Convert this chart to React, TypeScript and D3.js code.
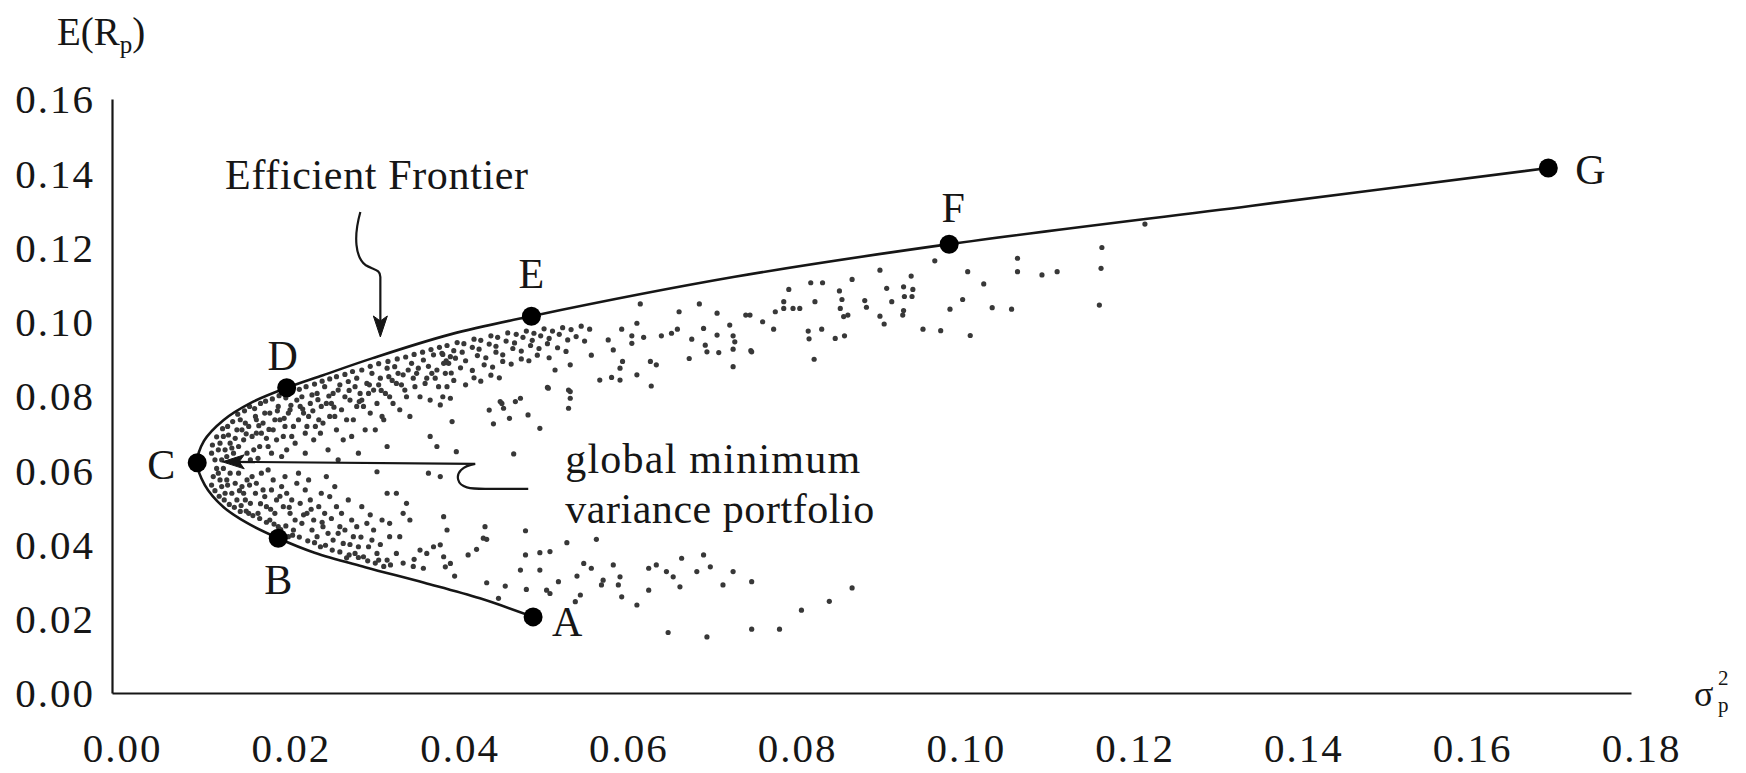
import * as d3 from "d3"
import React, { useEffect, useRef } from "react"

const W = 1746
const H = 773
const FONT = "'Liberation Serif', 'Times New Roman', serif"
const INK = "#161616"

const xTicks = [0, 0.02, 0.04, 0.06, 0.08, 0.1, 0.12, 0.14, 0.16, 0.18]
const yTicks = [0, 0.02, 0.04, 0.06, 0.08, 0.1, 0.12, 0.14, 0.16]

// named portfolios sitting on the frontier
const portfolioNames = ["A", "B", "C", "D", "E", "F", "G"]
const portfolioVar = [0.0499, 0.0197, 0.0101, 0.0207, 0.0497, 0.0992, 0.1702]
const portfolioRet = [0.0205, 0.0417, 0.0620, 0.0822, 0.1015, 0.1209, 0.1414]

// minimum variance frontier, traced from A round the nose at C up to G
const frontierVar = [0.0499, 0.0436, 0.0370, 0.0300, 0.0240, 0.0197, 0.0160, 0.0132, 0.0110, 0.0101,
  0.0109, 0.0132, 0.0164, 0.0207, 0.0250, 0.0309, 0.0401, 0.0497, 0.0738, 0.0992, 0.1349, 0.1702]
const frontierRet = [0.0205, 0.0255, 0.0297, 0.0339, 0.0378, 0.0417, 0.0458, 0.0501, 0.0560, 0.0620,
  0.0679, 0.0735, 0.0781, 0.0822, 0.0856, 0.0902, 0.0966, 0.1015, 0.1121, 0.1209, 0.1312, 0.1414]

// feasible portfolios: [variance, expected return]
const cloudNose = [[0.0122, 0.0628], [0.0124, 0.0605], [0.0120, 0.0583], [0.0118, 0.0646], [0.0119, 0.0668], [0.0118, 0.0560], [0.0122, 0.0545]]

const cloudUpper = [
  [0.0126, 0.0655], [0.0132, 0.0691], [0.0136, 0.0637], [0.0140, 0.0673], [0.0130, 0.0628],
  [0.0148, 0.0709], [0.0152, 0.0736], [0.0156, 0.0682], [0.0160, 0.0646], [0.0162, 0.0718], [0.0150, 0.0664], [0.0164, 0.0628],
  [0.0170, 0.0745], [0.0171, 0.0700], [0.0175, 0.0664], [0.0179, 0.0727], [0.0183, 0.0686], [0.0187, 0.0754], [0.0189, 0.0646], [0.0191, 0.0709], [0.0173, 0.0632],
  [0.0197, 0.0772], [0.0199, 0.0736], [0.0203, 0.0691], [0.0207, 0.0655], [0.0211, 0.0763], [0.0215, 0.0718], [0.0219, 0.0789], [0.0217, 0.0673], [0.0201, 0.0637],
  [0.0225, 0.0798], [0.0227, 0.0754], [0.0231, 0.0718], [0.0235, 0.0780], [0.0239, 0.0682], [0.0243, 0.0807], [0.0245, 0.0736], [0.0229, 0.0646], [0.0247, 0.0700],
  [0.0252, 0.0825], [0.0254, 0.0780], [0.0258, 0.0745], [0.0262, 0.0807], [0.0266, 0.0709], [0.0270, 0.0830], [0.0272, 0.0763], [0.0256, 0.0655], [0.0268, 0.0628], [0.0274, 0.0682],
  [0.0280, 0.0839], [0.0282, 0.0789], [0.0286, 0.0736], [0.0290, 0.0848], [0.0294, 0.0807], [0.0298, 0.0772], [0.0302, 0.0834], [0.0284, 0.0691], [0.0292, 0.0646], [0.0300, 0.0709],
  [0.0308, 0.0861], [0.0310, 0.0816], [0.0314, 0.0780], [0.0318, 0.0848], [0.0322, 0.0736], [0.0326, 0.0875], [0.0329, 0.0798], [0.0312, 0.0709], [0.0326, 0.0664], [0.0320, 0.0745],
  [0.0335, 0.0879], [0.0337, 0.0834], [0.0345, 0.0857], [0.0349, 0.0798], [0.0355, 0.0888], [0.0359, 0.0825], [0.0341, 0.0763], [0.0353, 0.0745],
  [0.0369, 0.0897], [0.0373, 0.0848], [0.0381, 0.0911], [0.0385, 0.0870], [0.0393, 0.0888], [0.0397, 0.0825], [0.0377, 0.0789], [0.0389, 0.0776], [0.0401, 0.0906],
  [0.0128, 0.0673], [0.0134, 0.0655], [0.0138, 0.0695], [0.0144, 0.0646], [0.0146, 0.0686], [0.0154, 0.0709], [0.0158, 0.0727], [0.0166, 0.0691], [0.0168, 0.0655],
  [0.0171, 0.0736], [0.0177, 0.0700], [0.0181, 0.0754], [0.0185, 0.0664], [0.0193, 0.0736], [0.0195, 0.0682], [0.0205, 0.0718], [0.0209, 0.0754], [0.0213, 0.0691],
  [0.0221, 0.0736], [0.0223, 0.0772], [0.0229, 0.0700], [0.0233, 0.0745], [0.0237, 0.0803], [0.0241, 0.0718], [0.0248, 0.0772], [0.0250, 0.0727], [0.0260, 0.0780],
  [0.0264, 0.0745], [0.0268, 0.0816], [0.0276, 0.0798], [0.0278, 0.0736], [0.0288, 0.0825], [0.0290, 0.0772], [0.0296, 0.0789], [0.0304, 0.0807], [0.0306, 0.0754],
  [0.0316, 0.0830], [0.0324, 0.0807], [0.0328, 0.0852], [0.0333, 0.0780], [0.0339, 0.0861], [0.0347, 0.0816], [0.0351, 0.0870], [0.0361, 0.0861], [0.0365, 0.0798],
  [0.0371, 0.0834], [0.0379, 0.0861], [0.0387, 0.0825], [0.0395, 0.0861], [0.0399, 0.0888], [0.0391, 0.0915],
  // hugging the frontier
  [0.0124, 0.0690], [0.0131, 0.0712], [0.0137, 0.0718], [0.0143, 0.0731], [0.0149, 0.0751], [0.0157, 0.0760], [0.0163, 0.0772], [0.0169, 0.0766],
  [0.0176, 0.0780], [0.0182, 0.0786], [0.0190, 0.0792], [0.0198, 0.0801], [0.0206, 0.0795], [0.0214, 0.0812], [0.0222, 0.0818], [0.0230, 0.0825],
  [0.0240, 0.0832], [0.0249, 0.0840], [0.0258, 0.0846], [0.0266, 0.0852], [0.0276, 0.0858], [0.0285, 0.0866], [0.0296, 0.0870], [0.0306, 0.0880],
  [0.0316, 0.0887], [0.0327, 0.0893], [0.0338, 0.0900], [0.0348, 0.0905], [0.0358, 0.0912], [0.0368, 0.0918], [0.0378, 0.0925], [0.0388, 0.0931],
  [0.0142, 0.0660], [0.0159, 0.0698], [0.0174, 0.0720], [0.0186, 0.0710], [0.0196, 0.0760], [0.0204, 0.0740], [0.0212, 0.0775], [0.0226, 0.0765],
  [0.0238, 0.0760], [0.0244, 0.0790], [0.0257, 0.0800], [0.0263, 0.0770], [0.0281, 0.0815], [0.0293, 0.0785], [0.0305, 0.0830], [0.0319, 0.0815],
  [0.0332, 0.0842], [0.0343, 0.0830], [0.0357, 0.0848], [0.0363, 0.0875], [0.0375, 0.0880], [0.0383, 0.0848], [0.0396, 0.0895],
]

const cloudBand = [
  [0.0397, 0.0936], [0.0409, 0.0944], [0.0417, 0.0941], [0.0429, 0.0953], [0.0437, 0.0950], [0.0449, 0.0962], [0.0457, 0.0958], [0.0469, 0.0970], [0.0479, 0.0966],
  [0.0491, 0.0975], [0.0500, 0.0969], [0.0512, 0.0981], [0.0522, 0.0975], [0.0534, 0.0984], [0.0544, 0.0979], [0.0556, 0.0988], [0.0566, 0.0980],
  [0.0392, 0.0912], [0.0405, 0.0922], [0.0415, 0.0918], [0.0427, 0.0931], [0.0435, 0.0926], [0.0447, 0.0940], [0.0455, 0.0934], [0.0467, 0.0948], [0.0477, 0.0943],
  [0.0487, 0.0958], [0.0498, 0.0950], [0.0508, 0.0962], [0.0518, 0.0955], [0.0530, 0.0966], [0.0540, 0.0951], [0.0550, 0.0960], [0.0560, 0.0948],
  [0.0396, 0.0890], [0.0407, 0.0902], [0.0419, 0.0895], [0.0433, 0.0909], [0.0443, 0.0903], [0.0455, 0.0918], [0.0463, 0.0911], [0.0475, 0.0928], [0.0485, 0.0921],
  [0.0496, 0.0936], [0.0506, 0.0928], [0.0516, 0.0941], [0.0528, 0.0930], [0.0538, 0.0920],
  [0.0402, 0.0862], [0.0413, 0.0876], [0.0427, 0.0869], [0.0441, 0.0884], [0.0451, 0.0878], [0.0463, 0.0893], [0.0473, 0.0886], [0.0485, 0.0900], [0.0494, 0.0895],
  [0.0504, 0.0910], [0.0518, 0.0903],
  [0.0405, 0.0842], [0.0419, 0.0830], [0.0429, 0.0849], [0.0437, 0.0840], [0.0449, 0.0856], [0.0459, 0.0849],
]

const cloudUpperRight = [
  [0.0626, 0.1048], [0.0672, 0.1027], [0.0696, 0.1048], [0.0717, 0.1023], [0.0751, 0.1018], [0.0604, 0.0980], [0.0622, 0.0996], [0.0616, 0.0962], [0.0630, 0.0958],
  [0.0616, 0.0942], [0.0651, 0.0962], [0.0663, 0.0969], [0.0670, 0.0980], [0.0687, 0.0953], [0.0701, 0.0982], [0.0717, 0.0964], [0.0732, 0.0991], [0.0736, 0.0962],
  [0.0738, 0.0946], [0.0703, 0.0937], [0.0705, 0.0919], [0.0719, 0.0917], [0.0736, 0.0926], [0.0757, 0.0922], [0.0684, 0.0901], [0.0736, 0.0879], [0.0588, 0.0951],
  [0.0594, 0.0924], [0.0605, 0.0893], [0.0602, 0.0875], [0.0622, 0.0857], [0.0638, 0.0893], [0.0645, 0.0884], [0.0639, 0.0827], [0.0578, 0.0843], [0.0592, 0.0850],
  [0.0602, 0.0843], [0.0568, 0.0910], [0.0543, 0.0884], [0.0541, 0.0816], [0.0543, 0.0794], [0.0541, 0.0767], [0.0516, 0.0823], [0.0525, 0.0870],
  [0.0802, 0.1087], [0.0828, 0.1105], [0.0842, 0.1105], [0.0877, 0.1114], [0.0910, 0.1139], [0.0947, 0.1123], [0.0975, 0.1164], [0.1014, 0.1135], [0.1073, 0.1171],
  [0.1073, 0.1135], [0.1102, 0.1126], [0.1120, 0.1135], [0.1173, 0.1200], [0.1172, 0.1144], [0.1170, 0.1045], [0.0756, 0.1018], [0.0771, 0.1000], [0.0784, 0.0980],
  [0.0786, 0.1027], [0.0796, 0.1054], [0.0796, 0.1036], [0.0807, 0.1036], [0.0815, 0.1036], [0.0833, 0.1054], [0.0862, 0.1083], [0.0865, 0.1060], [0.0863, 0.1036],
  [0.0867, 0.1014], [0.0872, 0.1018], [0.0892, 0.1057], [0.0894, 0.1039], [0.0918, 0.1090], [0.0924, 0.1054], [0.0910, 0.1015], [0.0915, 0.0994], [0.0938, 0.1094],
  [0.0949, 0.1087], [0.0939, 0.1068], [0.0948, 0.1068], [0.0938, 0.1030], [0.0937, 0.1018], [0.0961, 0.0980], [0.0982, 0.0976], [0.0993, 0.1034], [0.1008, 0.1060],
  [0.1033, 0.1102], [0.1043, 0.1038], [0.1066, 0.1034], [0.1017, 0.0963], [0.0825, 0.0975], [0.0826, 0.0954], [0.0841, 0.0980], [0.0857, 0.0955], [0.0868, 0.0962],
  [0.0832, 0.0899], [0.0758, 0.0919], [0.1224, 0.1263],
]

const cloudMiddle = [
  [0.0377, 0.0691], [0.0385, 0.0664], [0.0375, 0.0592], [0.0389, 0.0583], [0.0314, 0.0596], [0.0403, 0.0731], [0.0408, 0.0650], [0.0476, 0.0644],
  [0.0507, 0.0713], [0.0493, 0.0749], [0.0484, 0.0794], [0.0478, 0.0785], [0.0460, 0.0785], [0.0464, 0.0767], [0.0471, 0.0740], [0.0452, 0.0725],
  [0.0447, 0.0762], [0.0392, 0.0798], [0.0401, 0.0794], [0.0462, 0.0780], [0.0517, 0.0821], [0.0543, 0.0812],
]

const cloudLower = [
  [0.0126, 0.0592], [0.0130, 0.0556], [0.0136, 0.0574], [0.0142, 0.0538], [0.0132, 0.0605],
  [0.0150, 0.0592], [0.0154, 0.0556], [0.0158, 0.0520], [0.0162, 0.0484], [0.0166, 0.0583], [0.0170, 0.0538], [0.0152, 0.0489],
  [0.0177, 0.0592], [0.0179, 0.0547], [0.0183, 0.0502], [0.0187, 0.0466], [0.0191, 0.0574], [0.0195, 0.0520], [0.0197, 0.0448], [0.0185, 0.0601],
  [0.0205, 0.0583], [0.0207, 0.0538], [0.0211, 0.0484], [0.0215, 0.0439], [0.0219, 0.0565], [0.0223, 0.0511], [0.0225, 0.0457], [0.0209, 0.0421],
  [0.0233, 0.0574], [0.0235, 0.0520], [0.0239, 0.0466], [0.0243, 0.0421], [0.0248, 0.0538], [0.0252, 0.0484], [0.0256, 0.0430], [0.0247, 0.0394], [0.0254, 0.0583],
  [0.0264, 0.0556], [0.0266, 0.0502], [0.0270, 0.0448], [0.0274, 0.0403], [0.0280, 0.0520], [0.0284, 0.0466], [0.0288, 0.0376], [0.0278, 0.0364], [0.0286, 0.0421],
  [0.0296, 0.0502], [0.0302, 0.0457], [0.0308, 0.0412], [0.0314, 0.0376], [0.0320, 0.0466], [0.0326, 0.0358], [0.0329, 0.0421], [0.0298, 0.0367], [0.0322, 0.0341],
  [0.0337, 0.0538], [0.0345, 0.0484], [0.0349, 0.0511], [0.0353, 0.0466], [0.0365, 0.0385], [0.0373, 0.0376], [0.0381, 0.0394], [0.0393, 0.0367], [0.0401, 0.0349],
  [0.0369, 0.0336], [0.0357, 0.0341], [0.0337, 0.0376], [0.0341, 0.0421], [0.0329, 0.0457],
  [0.0128, 0.0574], [0.0134, 0.0538], [0.0140, 0.0592], [0.0146, 0.0565], [0.0148, 0.0520], [0.0156, 0.0538], [0.0160, 0.0574], [0.0164, 0.0511],
  [0.0171, 0.0565], [0.0173, 0.0484], [0.0181, 0.0529], [0.0189, 0.0547], [0.0193, 0.0484], [0.0201, 0.0556], [0.0203, 0.0502], [0.0213, 0.0520],
  [0.0217, 0.0466], [0.0221, 0.0592], [0.0229, 0.0547], [0.0231, 0.0484], [0.0237, 0.0439], [0.0245, 0.0502], [0.0250, 0.0448], [0.0258, 0.0529],
  [0.0262, 0.0412], [0.0272, 0.0484], [0.0276, 0.0439], [0.0290, 0.0448], [0.0292, 0.0394], [0.0304, 0.0394], [0.0310, 0.0439], [0.0316, 0.0358],
  // hugging the lower frontier
  [0.0127, 0.0530], [0.0133, 0.0520], [0.0139, 0.0508], [0.0145, 0.0500], [0.0153, 0.0505], [0.0159, 0.0490], [0.0167, 0.0478], [0.0175, 0.0470],
  [0.0183, 0.0460], [0.0192, 0.0455], [0.0200, 0.0440], [0.0206, 0.0450], [0.0214, 0.0425], [0.0222, 0.0420], [0.0232, 0.0410], [0.0240, 0.0405],
  [0.0253, 0.0398], [0.0261, 0.0385], [0.0270, 0.0380], [0.0281, 0.0372], [0.0292, 0.0365], [0.0303, 0.0356], [0.0312, 0.0350], [0.0330, 0.0345],
  [0.0345, 0.0350], [0.0358, 0.0360],
  [0.0137, 0.0560], [0.0151, 0.0545], [0.0163, 0.0560], [0.0176, 0.0510], [0.0188, 0.0495], [0.0199, 0.0530], [0.0210, 0.0500], [0.0227, 0.0480],
  [0.0236, 0.0495], [0.0249, 0.0460], [0.0260, 0.0470], [0.0268, 0.0430], [0.0282, 0.0400], [0.0295, 0.0420], [0.0306, 0.0480], [0.0318, 0.0400],
]

const cloudLowerRight = [
  [0.0393, 0.0475], [0.0397, 0.0439], [0.0442, 0.0448], [0.0444, 0.0414], [0.0389, 0.0399], [0.0432, 0.0387], [0.0422, 0.0372], [0.0490, 0.0437],
  [0.0539, 0.0405], [0.0574, 0.0414], [0.0507, 0.0378], [0.0490, 0.0372], [0.0519, 0.0381], [0.0484, 0.0331], [0.0507, 0.0331], [0.0466, 0.0288],
  [0.0458, 0.0255], [0.0444, 0.0297], [0.0406, 0.0315], [0.0395, 0.0340], [0.0491, 0.0279], [0.0515, 0.0277], [0.0529, 0.0300], [0.0551, 0.0315],
  [0.0559, 0.0349], [0.0568, 0.0336], [0.0594, 0.0345], [0.0580, 0.0291], [0.0582, 0.0304], [0.0602, 0.0313], [0.0600, 0.0291], [0.0604, 0.0259],
  [0.0622, 0.0237], [0.0636, 0.0277], [0.0636, 0.0336], [0.0645, 0.0345], [0.0657, 0.0327], [0.0665, 0.0313], [0.0673, 0.0286], [0.0675, 0.0363],
  [0.0701, 0.0372], [0.0693, 0.0327], [0.0709, 0.0340], [0.0724, 0.0291], [0.0736, 0.0327], [0.0758, 0.0300], [0.0555, 0.0264], [0.0549, 0.0246],
  [0.0519, 0.0268], [0.0659, 0.0163], [0.0705, 0.0151], [0.0758, 0.0172], [0.0791, 0.0172], [0.0817, 0.0223], [0.0850, 0.0247], [0.0877, 0.0283],
  [0.0326, 0.0538], [0.0440, 0.0417],
]

// where each letter sits relative to its dot (px)
const labelOffset = { A: [34, 5], B: [0, 42], C: [-36, 2], D: [-4, -32], E: [0, -42], F: [4, -36], G: [42, 2] }

export default function App() {
  const refX = useRef(null)
  const refY = useRef(null)

  const x = d3.scaleLinear().domain([0, 0.18]).range([112, 1631])
  const y = d3.scaleLinear().domain([0, 0.16]).range([693, 99])

  useEffect(() => {
    // x axis: bare line, labels set a little right of their value like the original print
    const gx = d3.select(refX.current)
    gx.call(d3.axisBottom(x).tickValues(xTicks).tickSize(0).tickFormat(d3.format(".2f")))
    gx.attr("font-family", FONT).attr("font-size", 41)
    gx.select(".domain").attr("stroke", INK).attr("stroke-width", 2.2)
    gx.selectAll(".tick text")
      .attr("fill", INK).attr("y", 55).attr("dy", "0.35em").attr("dx", 10)
      .attr("letter-spacing", 2)

    const gy = d3.select(refY.current)
    gy.call(d3.axisLeft(y).tickValues(yTicks).tickSize(0).tickFormat(d3.format(".2f")))
    gy.attr("font-family", FONT).attr("font-size", 41)
    gy.select(".domain").attr("stroke", INK).attr("stroke-width", 2.2)
    gy.selectAll(".tick text")
      .attr("fill", INK).attr("x", -17).attr("dy", "0.34em")
      .attr("letter-spacing", 2)
  }, [])

  const cloud = [...cloudNose, ...cloudUpper, ...cloudBand, ...cloudUpperRight, ...cloudMiddle, ...cloudLower, ...cloudLowerRight]

  const frontier = d3.line()
    .x(i => x(frontierVar[i]))
    .y(i => y(frontierRet[i]))
    .curve(d3.curveCatmullRom.alpha(0.5))(d3.range(frontierVar.length))

  // annotation anchors in data space
  const efTip = [x(0.0318), y(0.0959)]
  const cIdx = portfolioNames.indexOf("C")
  const gmvTip = [x(portfolioVar[cIdx]) + 25, y(portfolioRet[cIdx]) - 1]

  return (
    <svg width={W} height={H} style={{ position: "absolute", left: 0, top: 0, background: "#fff" }}
      fontFamily={FONT}>
      <rect width={W} height={H} fill="#fff" />

      <g ref={refX} transform={`translate(0, ${y(0)})`} />
      <g ref={refY} transform={`translate(${x(0)}, 0)`} />

      {/* axis titles */}
      <text x={57} y={45} fontSize={39} fill={INK}>
        E(R<tspan fontSize={25} dy={8}>p</tspan><tspan dy={-8}>)</tspan>
      </text>
      <text x={1694} y={706} fontSize={36} fill={INK}>σ</text>
      <text x={1718} y={685} fontSize={21} fill={INK}>2</text>
      <text x={1718} y={712} fontSize={21} fill={INK}>p</text>

      {/* cloud of feasible portfolios */}
      <g fill="#383838">
        {cloud.map((d, i) => (
          <circle key={i} cx={x(d[0])} cy={y(d[1])} r={2.6} />
        ))}
      </g>

      {/* frontier */}
      <path d={frontier} fill="none" stroke={INK} strokeWidth={2.6} />

      {portfolioNames.map((n, i) => {
        const cx = x(portfolioVar[i])
        const cy = y(portfolioRet[i])
        const [dx, dy] = labelOffset[n]
        return (
          <g key={n}>
            <circle cx={cx} cy={cy} r={9.5} fill="#000" />
            <text x={cx + dx} y={cy + dy} dy="0.34em" textAnchor="middle" fontSize={42} fill={INK}>{n}</text>
          </g>
        )
      })}

      {/* "Efficient Frontier" with its curly arrow */}
      <text x={x(0.0134)} y={y(0.1358)} fontSize={42} fill={INK} textLength={303}>Efficient Frontier</text>
      <g transform={`translate(${efTip[0]}, ${efTip[1]})`} stroke={INK} fill="none" strokeWidth={2.2}>
        <path d="M -20 -125 C -27 -100, -25 -80, -15 -72 C -7 -67, 0 -68, 0 -60 L 0 -6" />
        <path d="M 0 0 L -7 -21 L 0 -16 L 7 -21 Z" fill={INK} strokeWidth={1} />
      </g>

      {/* global minimum variance portfolio callout */}
      <g transform={`translate(${gmvTip[0]}, ${gmvTip[1]})`} stroke={INK} fill="none" strokeWidth={2.2}>
        <path d="M 8 0 L 253 2 C 240 4, 234 11, 236 18 C 238 26, 248 27, 263 27 L 306 27" />
        <path d="M 0 0 L 22 -7 L 17 0 L 22 7 Z" fill={INK} strokeWidth={1} />
      </g>
      <text x={x(0.0537)} y={y(0.0593)} fontSize={42} fill={INK} textLength={295}>global minimum</text>
      <text x={x(0.0537)} y={y(0.0458)} fontSize={42} fill={INK} textLength={309}>variance portfolio</text>
    </svg>
  )
}
